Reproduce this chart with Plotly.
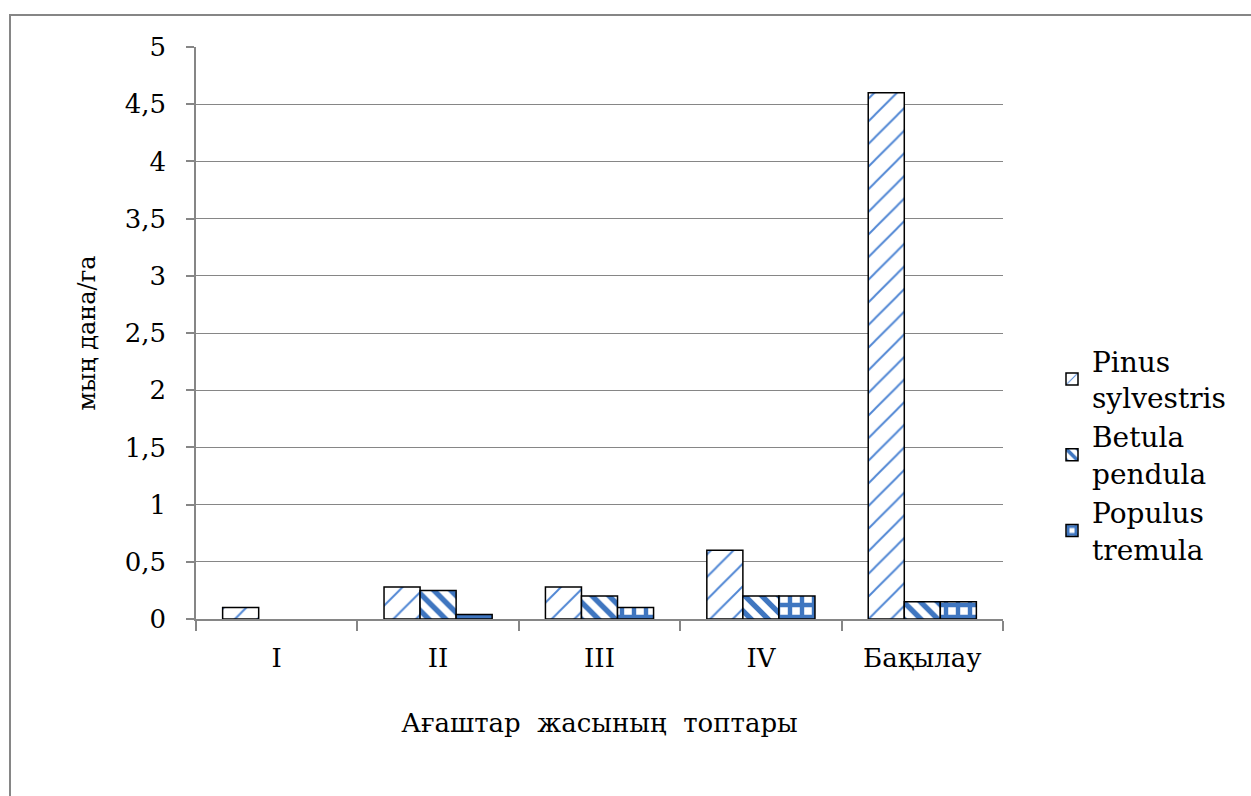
import plotly.graph_objects as go

# Age groups of trees and species counts (thousand pcs/ha)
categories = ["I", "II", "III", "IV", "Бақылау"]
pinus_sylvestris = [0.1, 0.28, 0.28, 0.6, 4.6]
betula_pendula = [None, 0.25, 0.2, 0.2, 0.15]
populus_tremula = [None, 0.04, 0.1, 0.2, 0.15]
y_ticks = [0, 0.5, 1, 1.5, 2, 2.5, 3, 3.5, 4, 4.5, 5]

FONT = "DejaVu Serif"
AXIS_GREY = "#868686"

W, H = 1251, 796
L, R, T, B = 196, 248, 47, 177
pw, ph = W - L - R, H - T - B


def px_x(x):
    return (x - L) / pw


def px_y(y):
    return (H - B - y) / ph


def bar_marker(shape, color, size, solidity):
    return dict(color="white", line=dict(color="black", width=1.5),
                pattern=dict(shape=shape, fgcolor=color, bgcolor="white",
                             fgopacity=1, size=size, solidity=solidity))


fig = go.Figure()
fig.add_bar(x=categories, y=pinus_sylvestris, name="Pinus<br>sylvestris",
            marker=bar_marker("/", "#4f86d4", 16, 0.12))
fig.add_bar(x=categories, y=betula_pendula, name="Betula<br>pendula",
            marker=bar_marker("\\", "#3f76c0", 12, 0.45))
fig.add_bar(x=categories, y=populus_tremula, name="Populus<br>tremula",
            marker=bar_marker("+", "#3f76c0", 12, 0.6))

# Outer chart frame
fig.add_shape(type="rect", xref="paper", yref="paper",
              x0=px_x(10), x1=px_x(1300), y0=px_y(850), y1=px_y(15),
              line=dict(color=AXIS_GREY, width=2), fillcolor="rgba(0,0,0,0)",
              layer="below")

fig.update_layout(
    width=W, height=H,
    margin=dict(l=L, r=R, t=T, b=B, autoexpand=False),
    paper_bgcolor="white", plot_bgcolor="white",
    separators=",.",
    barmode="group", bargap=0.33, bargroupgap=0,
    font=dict(family=FONT, size=26, color="black"),
    showlegend=True,
    legend=dict(x=px_x(1052), y=px_y(336), xanchor="left", yanchor="top",
                font=dict(family=FONT, size=28, color="black"),
                tracegroupgap=2, itemwidth=30, bgcolor="rgba(0,0,0,0)"),
    xaxis=dict(
        showline=True, linecolor=AXIS_GREY, linewidth=1.5,
        ticks="outside", tickson="boundaries", ticklen=10,
        tickcolor=AXIS_GREY, tickwidth=1.5, ticklabelstandoff=15,
        tickfont=dict(family=FONT, size=26),
        title=dict(text="Ағаштар  жасының  топтары",
                   font=dict(family=FONT, size=26), standoff=42),
    ),
    yaxis=dict(
        range=[0, 5], tickvals=y_ticks,
        showline=True, linecolor=AXIS_GREY, linewidth=1.5,
        showgrid=True, gridcolor=AXIS_GREY, gridwidth=1,
        ticks="outside", ticklen=8, tickcolor=AXIS_GREY, tickwidth=1.5,
        ticklabelstandoff=15, zeroline=False,
        tickfont=dict(family=FONT, size=26),
        title=dict(text="мың дана/га",
                   font=dict(family=FONT, size=24), standoff=22),
    ),
)

fig.write_html("out.html")
